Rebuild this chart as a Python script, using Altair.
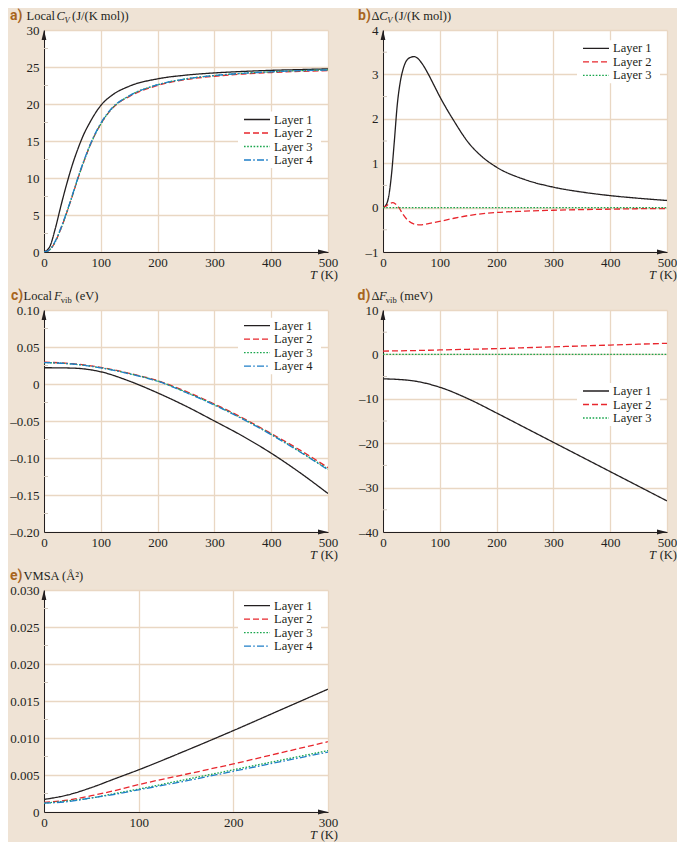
import altair as alt
import pandas as pd

LAYERS = ["Layer 1", "Layer 2", "Layer 3", "Layer 4"]
COLORS = ["#231f20", "#e8262d", "#19a64d", "#1f7fc8"]
DASHES = [[1, 0], [6, 3], [1.6, 1.6], [7, 2.2, 1.6, 2.2]]

SERIF = "Liberation Serif"
SANS = "Roboto"
INK = "#231f20"
BRAND = "#a8651e"

# ---------------- panel a: local C_V ----------------
a_T = [0, 10, 20, 30, 40, 50, 60, 70, 80, 100, 120, 150, 200, 250, 300, 350, 400, 450, 500]
a_L1 = [0, 0.7, 3.2, 6.3, 9.2, 11.8, 14.0, 15.9, 17.4, 19.8, 21.2, 22.4, 23.4, 23.9, 24.2, 24.4, 24.55, 24.65, 24.75]
a_L2 = [0, 0.3, 1.4, 3.2, 5.3, 7.6, 10.0, 12.2, 14.2, 17.3, 19.4, 21.0, 22.5, 23.3, 23.75, 24.05, 24.25, 24.4, 24.5]
a_L3 = [0, 0.3, 1.4, 3.2, 5.3, 7.6, 10.0, 12.2, 14.2, 17.3, 19.4, 21.1, 22.6, 23.4, 23.85, 24.15, 24.35, 24.5, 24.6]
a_L4 = [0, 0.3, 1.5, 3.3, 5.4, 7.7, 10.1, 12.3, 14.3, 17.4, 19.5, 21.1, 22.6, 23.4, 23.85, 24.15, 24.35, 24.5, 24.6]

# ---------------- panel b: delta C_V ----------------
b_T1 = [0, 5, 10, 15, 20, 25, 30, 35, 40, 48, 55, 62, 70, 80, 90, 100, 125, 150, 175, 200, 250, 300, 350, 400, 450, 500]
b_L1 = [0, 0.05, 0.25, 0.75, 1.5, 2.3, 2.8, 3.1, 3.28, 3.38, 3.4, 3.35, 3.22, 3.0, 2.75, 2.5, 1.95, 1.47, 1.14, 0.91, 0.63, 0.46, 0.35, 0.27, 0.21, 0.16]
b_T2 = [0, 5, 10, 17, 22, 28, 35, 45, 55, 65, 80, 100, 125, 150, 200, 250, 300, 350, 400, 450, 500]
b_L2 = [0, 0.03, 0.08, 0.11, 0.08, 0.0, -0.15, -0.3, -0.37, -0.39, -0.36, -0.31, -0.24, -0.18, -0.11, -0.08, -0.06, -0.045, -0.035, -0.025, -0.02]
b_T3 = [0, 100, 200, 300, 400, 500]
b_L3 = [0, 0, 0, 0, 0, 0]

# ---------------- panel c: local F_vib ----------------
c_T = [0, 50, 100, 150, 200, 250, 300, 350, 400, 450, 500]
c_L1 = [0.022, 0.0215, 0.0165, 0.004, -0.012, -0.030, -0.050, -0.0705, -0.0935, -0.1195, -0.148]
c_L2 = [0.0295, 0.0275, 0.0225, 0.0145, 0.0045, -0.010, -0.027, -0.046, -0.067, -0.089, -0.113]
c_L3 = [0.029, 0.027, 0.022, 0.014, 0.004, -0.011, -0.028, -0.047, -0.068, -0.091, -0.115]
c_L4 = [0.029, 0.027, 0.0218, 0.0138, 0.0037, -0.0115, -0.0285, -0.0475, -0.0685, -0.0915, -0.116]

# ---------------- panel d: delta F_vib ----------------
d_T = [0, 50, 100, 150, 200, 250, 300, 350, 400, 450, 500]
d_L1 = [-5.5, -5.9, -7.4, -10.0, -13.2, -16.5, -19.8, -23.1, -26.4, -29.7, -33.0]
d_L2 = [0.75, 0.85, 1.0, 1.15, 1.3, 1.5, 1.7, 1.9, 2.1, 2.3, 2.5]
d_L3 = [0, 0, 0, 0, 0, 0, 0, 0, 0, 0, 0]

# ---------------- panel e: VMSA ----------------
e_T = [0, 25, 50, 75, 100, 150, 200, 250, 300]
e_L1 = [0.0017, 0.0023, 0.0033, 0.0045, 0.0057, 0.0083, 0.0110, 0.0138, 0.0166]
e_L2 = [0.0013, 0.0016, 0.0022, 0.0029, 0.0037, 0.0051, 0.0065, 0.0080, 0.0095]
e_L3 = [0.0012, 0.0015, 0.0019, 0.0025, 0.0031, 0.0044, 0.0057, 0.0070, 0.0083]
e_L4 = [0.0012, 0.0014, 0.0019, 0.0024, 0.0030, 0.0042, 0.0055, 0.0068, 0.0081]

W, H = 284, 222
ONE = pd.DataFrame({"k": [0]})


def long_df(ts, ys):
    frames = [pd.DataFrame({"T": t, "v": y, "layer": LAYERS[i]}) for i, (t, y) in enumerate(zip(ts, ys))]
    return pd.concat(frames, ignore_index=True)


def txt(s, x, y, size=12.5, style="normal", weight="normal", font=SERIF, color=INK,
        align="left", baseline="alphabetic"):
    return alt.Chart(ONE).mark_text(
        text=s, font=font, fontSize=size, fontStyle=style, fontWeight=weight,
        color=color, align=align, baseline=baseline
    ).encode(x=alt.value(x), y=alt.value(y))


def panel(df, n, xdom, xticks, ydom, yticks, yminor, fmt, leg_y0, title_parts):
    lab = ("datum.value < 0 ? '\u2013' + format(-datum.value, '%s') : "
           "(datum.value == 0 ? '0' : format(datum.value, '%s'))" % (fmt, fmt))
    xenc = alt.X("T:Q", scale=alt.Scale(domain=xdom, nice=False, zero=False),
                 axis=alt.Axis(values=xticks, title=None, format="d", labelFlush=False,
                               labelPadding=4, ticks=False, grid=True, labelOverlap=False))
    yenc = alt.Y("v:Q", scale=alt.Scale(domain=ydom, nice=False, zero=False),
                 axis=alt.Axis(values=yticks, title=None, labelExpr=lab, labelPadding=5,
                               ticks=False, grid=True, labelFlush=False, labelOverlap=False))
    sub = LAYERS[:n]
    color = alt.Color("layer:N", scale=alt.Scale(domain=sub, range=COLORS[:n]), legend=None)
    dash = alt.StrokeDash("layer:N", scale=alt.Scale(domain=sub, range=DASHES[:n]), legend=None)
    lines = alt.Chart(df).mark_line(interpolate="monotone", strokeWidth=1.3, clip=True).encode(
        x=xenc, y=yenc, color=color, strokeDash=dash)
    minor = alt.Chart(pd.DataFrame({"v": yminor})).mark_rule(color="#cfc6bc", strokeWidth=1).encode(
        y=yenc, x=alt.value(0), x2=alt.value(4))
    arrow_x = alt.Chart(ONE).mark_point(shape="M0,0L-1,-0.24L-1,0.24Z", size=400, filled=True,
                                        color=INK, opacity=1, strokeWidth=0).encode(
        x=alt.value(W), y=alt.value(H))
    arrow_y = alt.Chart(ONE).mark_point(shape="M0,0L-0.24,1L0.24,1Z", size=400, filled=True,
                                        color=INK, opacity=1, strokeWidth=0).encode(
        x=alt.value(0), y=alt.value(0))
    layers = [lines, minor, arrow_x, arrow_y]
    # legend
    step = 13.5
    layers.append(alt.Chart(ONE).mark_rect(color="white").encode(
        x=alt.value(194), x2=alt.value(277),
        y=alt.value(leg_y0 - 8), y2=alt.value(leg_y0 + (n - 1) * step + 8)))
    for i in range(n):
        yy = leg_y0 + i * step
        layers.append(alt.Chart(ONE).mark_rule(color=COLORS[i], strokeDash=DASHES[i], strokeWidth=1.3).encode(
            x=alt.value(200), x2=alt.value(226), y=alt.value(yy)))
        layers.append(txt(LAYERS[i], 230, yy, size=12.5, baseline="middle"))
    # x-axis title T (K)
    layers.append(txt("(K)", W + 10, H + 23, size=12.5, align="right", baseline="middle"))
    layers.append(txt("T", W - 11, H + 23, size=12.5, style="italic", align="right", baseline="middle"))
    # panel title
    for part in title_parts:
        layers.append(part)
    return alt.layer(*layers).properties(width=W, height=H)


def tlabel(s, x):
    return txt(s, x, -10, size=14, weight="bold", font=SANS, color=BRAND)


pa = panel(long_df([a_T] * 4, [a_L1, a_L2, a_L3, a_L4]), 4, [0, 500], [0, 100, 200, 300, 400, 500],
           [0, 30], [0, 5, 10, 15, 20, 25, 30], [2.5, 7.5, 12.5, 17.5, 22.5, 27.5], "d", 89.5,
           [tlabel("a)", -34), txt("Local", -17.5, -10), txt("C", 12.5, -10, style="italic"),
            txt("V", 20.5, -7, size=8.5, style="italic"), txt("(J/(K mol))", 28, -10)])

pb = panel(long_df([b_T1, b_T2, b_T3], [b_L1, b_L2, b_L3]), 3, [0, 500], [0, 100, 200, 300, 400, 500],
           [-1, 4], [-1, 0, 1, 2, 3, 4], [-0.5, 0.5, 1.5, 2.5, 3.5], "d", 18.3,
           [tlabel("b)", -25), txt("\u0394", -11.5, -10), txt("C", -3.8, -10, style="italic"),
            txt("V", 4.2, -7, size=8.5, style="italic"), txt("(J/(K mol))", 11.5, -10)])

pc = panel(long_df([c_T] * 4, [c_L1, c_L2, c_L3, c_L4]), 4, [0, 500], [0, 100, 200, 300, 400, 500],
           [-0.2, 0.1], [-0.2, -0.15, -0.1, -0.05, 0, 0.05, 0.1],
           [-0.175, -0.125, -0.075, -0.025, 0.025, 0.075], ".2f", 15.7,
           [tlabel("c)", -33), txt("Local", -20.5, -10), txt("F", 10, -10, style="italic"),
            txt("vib", 16.8, -7, size=8.5), txt("(eV)", 31.5, -10)])

pd_ = panel(long_df([d_T] * 3, [d_L1, d_L2, d_L3]), 3, [0, 500], [0, 100, 200, 300, 400, 500],
            [-40, 10], [-40, -30, -20, -10, 0, 10], [-35, -25, -15, -5, 5], "d", 81,
            [tlabel("d)", -25.5), txt("\u0394", -11.5, -10), txt("F", -4, -10, style="italic"),
             txt("vib", 2.8, -7, size=8.5), txt("(meV)", 17, -10)])

pe = panel(long_df([e_T] * 4, [e_L1, e_L2, e_L3, e_L4]), 4, [0, 300], [0, 100, 200, 300],
           [0, 0.03], [0, 0.005, 0.01, 0.015, 0.02, 0.025, 0.03],
           [0.0025, 0.0075, 0.0125, 0.0175, 0.0225, 0.0275], ".3f", 15.7,
           [tlabel("e)", -34), txt("VMSA (\u00c5\u00b2)", -20.5, -10)])

chart = alt.concat(pa, pb, pc, pd_, pe, columns=2, spacing={"row": 58, "column": 55},
                   bounds="flush").properties(
    padding={"left": 1, "top": 1, "right": 0, "bottom": 0}
).configure(background="#efe3d5").configure_view(stroke=None, fill="white").configure_axis(
    labelFont=SERIF, labelFontSize=13, labelColor=INK, domainColor=INK, domainWidth=1,
    gridColor="#e9d7c3", gridWidth=1.3)

chart.save("out.html", embed_options={"renderer": "svg", "actions": False})
